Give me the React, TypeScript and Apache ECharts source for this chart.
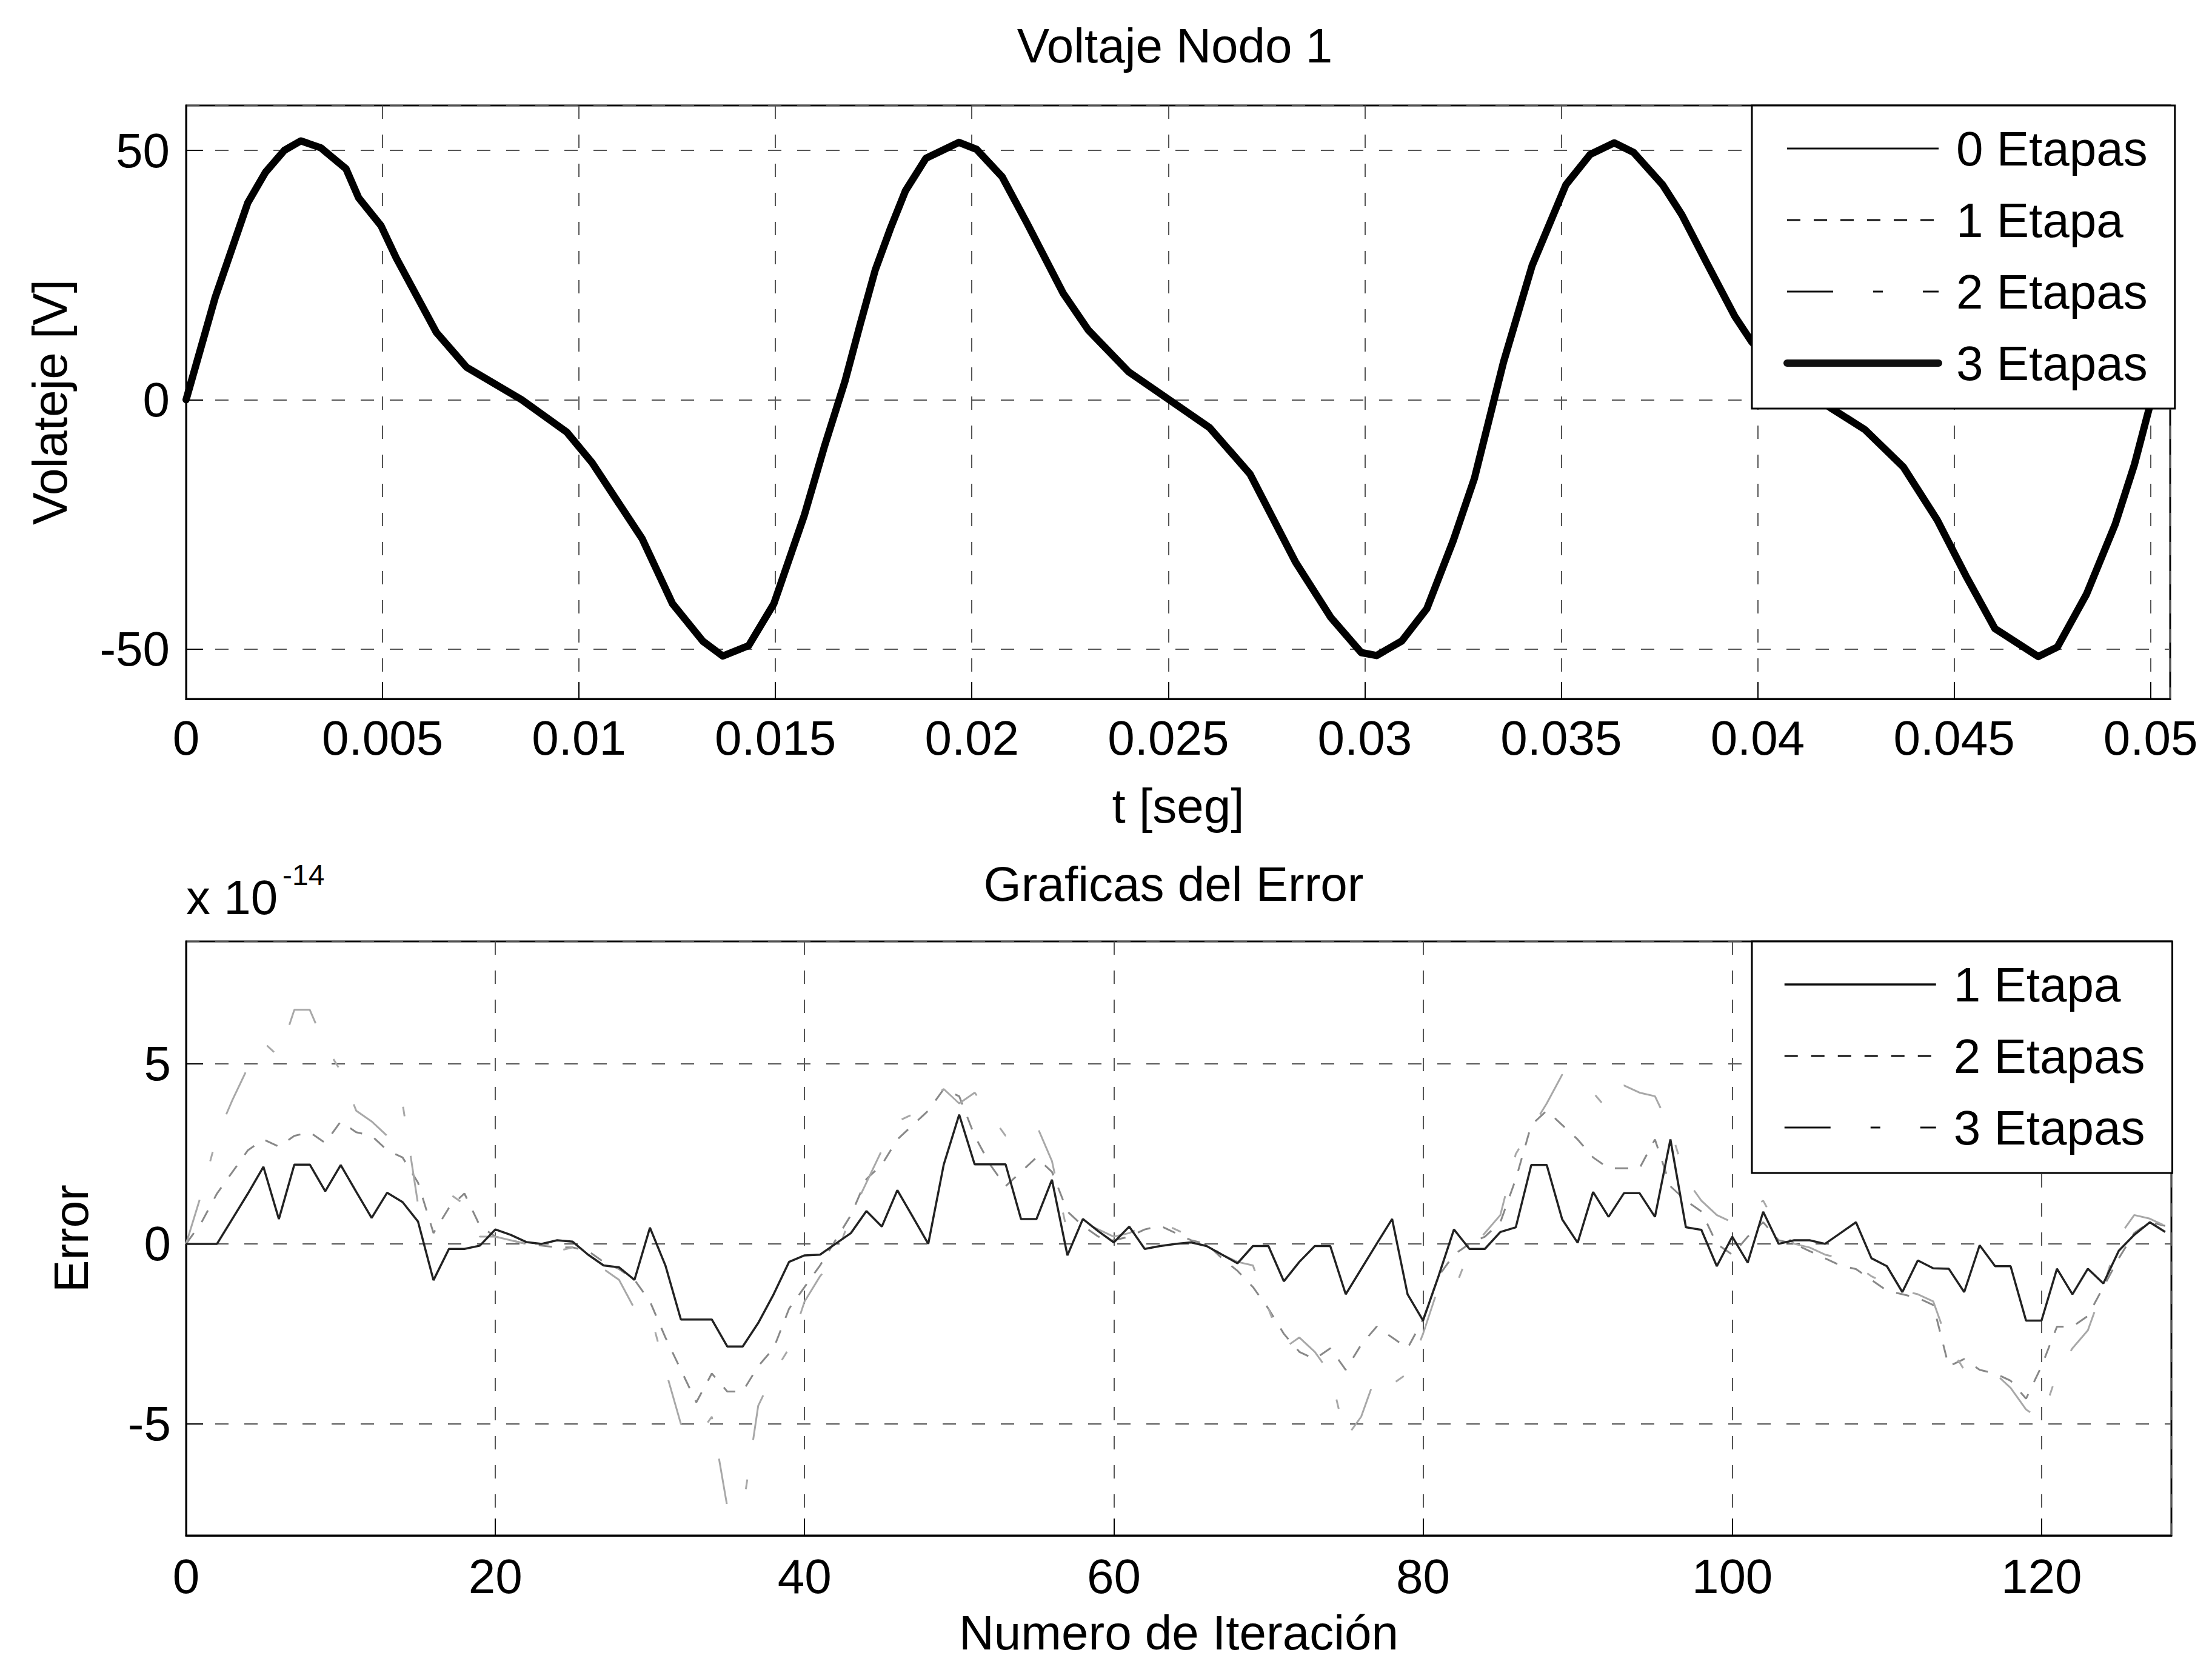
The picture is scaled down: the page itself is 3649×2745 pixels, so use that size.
import React, { useEffect, useRef } from "react";
import * as echarts from "echarts";

// ---- Top plot: Voltaje Nodo 1 ----
const voltageTimes = [
  0, 0.00074, 0.00157, 0.00202, 0.0025, 0.00292, 0.00343, 0.00407, 0.00439, 0.00496,
  0.00535, 0.00637, 0.00714, 0.00854, 0.00969, 0.01033, 0.01161, 0.01238, 0.01315, 0.01366,
  0.01432, 0.01496, 0.01573, 0.01625, 0.01677, 0.01715, 0.01754, 0.01793, 0.01831, 0.01883,
  0.01967, 0.02012, 0.02077, 0.02141, 0.02232, 0.02296, 0.02399, 0.02502, 0.02605, 0.02708,
  0.02824, 0.02914, 0.02991, 0.0303, 0.03094, 0.03158, 0.03225, 0.03279, 0.03353, 0.03426,
  0.03512, 0.03574, 0.03635, 0.03684, 0.03758, 0.03807, 0.03868, 0.03942, 0.03985, 0.0406,
  0.04187, 0.04273, 0.04371, 0.04457, 0.0453, 0.04604, 0.04714, 0.04763, 0.04837, 0.0491,
  0.04959, 0.04996, 0.05045,
];
const voltageValues = [
  0, 20.5, 39.5, 45.6, 50.0, 51.9, 50.5, 46.3, 40.5, 34.9,
  28.4, 13.5, 6.5, 0, -6.5, -12.6, -27.9, -40.9, -48.4, -51.4,
  -49.3, -40.9, -23.3, -9.3, 3.7, 14.9, 26, 34.4, 41.9, 48.4,
  51.6, 50.2, 44.7, 35.3, 21.4, 14, 5.6, 0, -5.6, -14.9,
  -32.6, -43.7, -50.7, -51.3, -48.4, -41.9, -28.3, -15.8, 7.5, 26.9,
  43.1, 49.2, 51.5, 49.6, 43.1, 37.1, 27.8, 16.7, 11.6, 5.5,
  -1.7, -6, -13.5, -24.1, -35.3, -45.9, -51.5, -49.6, -39, -25,
  -13, -1.9, 13.9,
];
const topSeriesNames = ["0 Etapas", "1 Etapa", "2 Etapas", "3 Etapas"];

// ---- Bottom plot: Graficas del Error (units of 1e-14) ----
const iterations = Array.from({ length: 129 }, (_, i) => i);
const error1Etapa = [
  0, 0, 0, 0.7, 1.4, 2.14, 0.69, 2.2, 2.2, 1.46,
  2.19, 1.45, 0.72, 1.42, 1.16, 0.62, -1.01, -0.14, -0.14, -0.05,
  0.4, 0.25, 0.05, 0, 0.1, 0.06, -0.3, -0.6, -0.65, -1.0,
  0.45, -0.6, -2.1, -2.1, -2.1, -2.85, -2.85, -2.2, -1.4, -0.5,
  -0.32, -0.3, 0.0, 0.3, 0.91, 0.48, 1.49, 0.75, 0, 2.2,
  3.59, 2.21, 2.21, 2.21, 0.69, 0.69, 1.78, -0.32, 0.69, 0.35,
  0.04, 0.48, -0.14, -0.06, 0.0, 0.04, -0.06, -0.3, -0.54, -0.06,
  -0.06, -1.04, -0.5, -0.06, -0.06, -1.4, -0.7, 0, 0.69, -1.4,
  -2.13, -0.9, 0.4, -0.14, -0.14, 0.33, 0.46, 2.19, 2.19, 0.68,
  0.03, 1.44, 0.75, 1.41, 1.41, 0.75, 2.9, 0.46, 0.39, -0.62,
  0.2, -0.52, 0.89, 0, 0.1, 0.1, 0, 0.3, 0.6, -0.4,
  -0.62, -1.34, -0.46, -0.68, -0.69, -1.34, -0.04, -0.62, -0.62, -2.13,
  -2.13, -0.69, -1.4, -0.69, -1.1, -0.19, 0.25, 0.6, 0.33,
];
const error2Etapas = [
  0, 0.6, 1.4, 2.0, 2.6, 2.9, 2.7, 3.0, 3.1, 2.8,
  3.4, 3.1, 3.0, 2.6, 2.4, 1.7, 0.3, 1.0, 1.4, 0.5,
  0.2, 0.1, 0.0, -0.05, -0.1, -0.1, -0.2, -0.5, -0.7, -1.0,
  -1.6, -2.6, -3.5, -4.4, -3.6, -4.1, -4.1, -3.4, -2.9, -1.8,
  -1.2, -0.6, 0.1, 0.8, 1.8, 2.2, 2.9, 3.3, 3.7, 4.3,
  4.1, 3.0, 2.2, 1.6, 2.0, 2.4, 2.0, 0.9, 0.5, 0.2,
  0.1, 0.2, 0.4, 0.5, 0.3, 0.1, 0.0, -0.4, -0.75, -1.2,
  -1.8, -2.5, -3.0, -3.2, -2.9, -3.5, -2.8, -2.3, -2.6, -2.9,
  -2.1, -0.9, -0.3, 0.0, 0.2, 0.6, 1.8, 3.3, 3.7, 3.3,
  2.9, 2.4, 2.1, 2.1, 2.1, 2.9, 1.6, 1.2, 0.9, 0.0,
  -0.3, 0.2, 0.6, 0.1, 0.0, -0.2, -0.4, -0.6, -0.7, -1.0,
  -1.3, -1.4, -1.5, -1.7, -3.4, -3.2, -3.5, -3.6, -3.8, -4.3,
  -3.4, -2.3, -2.3, -2.0, -1.2, -0.4, 0.3, 0.6, 0.5,
];
const error3Etapas = [
  0, 1.4, 3.0, 4.0, 4.9, 5.6, 5.2, 6.5, 6.5, 5.5,
  4.8, 3.7, 3.4, 3.0, 3.9, 1.1, 1.3, 1.4, 1.1, 0.2,
  0.2, 0.1, 0.0, -0.1, -0.2, -0.1, -0.3, -0.7, -1.0, -1.8,
  -1.9, -3.5, -5.0, -5.4, -4.8, -7.3, -7.4, -4.5, -3.6, -2.9,
  -1.6, -0.9, -0.4, 0.8, 1.7, 2.6, 3.4, 3.6, 4.0, 4.3,
  3.9, 4.2, 3.6, 3.0, 3.3, 3.3, 2.3, 0.3, 0.6, 0.4,
  0.2, 0.3, 0.5, 0.6, 0.4, 0.2, 0.0, -0.3, -0.5, -0.6,
  -1.8, -2.9, -2.6, -3.0, -3.6, -5.4, -4.8, -3.6, -3.9, -3.6,
  -2.5, -1.2, -1.3, -0.2, 0.3, 0.8, 2.5, 3.2, 3.9, 4.7,
  4.3, 4.2, 3.7, 4.4, 4.2, 4.1, 3.2, 1.8, 1.2, 0.8,
  0.6, 0.9, 1.2, 0.4, 0.0, -0.1, -0.3, -0.4, -0.6, -0.9,
  -1.1, -1.3, -1.4, -1.6, -2.8, -3.5, -3.5, -3.6, -4.0, -4.6,
  -4.9, -3.6, -2.9, -2.4, -1.2, 0.2, 0.8, 0.7, 0.5,
];
const bottomSeriesNames = ["1 Etapa", "2 Etapas", "3 Etapas"];

const FONT = '"Liberation Sans", Arial, Helvetica, sans-serif';
const DASH: number[] = [22, 22];
const DASH_DOT: number[] = [76, 66, 16, 66];

export default function App() {
  const ref = useRef<HTMLDivElement>(null);

  useEffect(() => {
    const chart = echarts.init(ref.current!, null, { renderer: "svg" });

    const voltData = voltageTimes.map((t, i) => [t, voltageValues[i]]);
    const errData = (arr: number[]) => iterations.map((it, i) => [it, arr[i]]);

    const splitLine = { show: true, lineStyle: { color: "#555", width: 2, type: [22, 26] } };
    const axisLine = { show: true, onZero: false, lineStyle: { color: "#000", width: 3 } };
    const axisTick = { show: true, inside: true, length: 28, lineStyle: { color: "#000", width: 2 } };
    const labelBase = { fontSize: 80, color: "#000", fontFamily: FONT };
    const nameStyle = { fontSize: 80, color: "#000", fontFamily: FONT };

    const legendBase = {
      orient: "vertical",
      itemWidth: 250,
      itemHeight: 20,
      itemGap: 28,
      padding: [26, 45, 30, 52],
      backgroundColor: "#fff",
      borderColor: "#000",
      borderWidth: 3,
      borderRadius: 0,
      selectedMode: false,
      textStyle: { fontSize: 80, color: "#000", fontFamily: FONT, lineHeight: 90, padding: [0, 0, 0, 24] },
      lineStyle: { color: "#111", width: "inherit", type: "inherit" },
      itemStyle: { opacity: 0, color: "transparent", borderColor: "transparent", borderWidth: 0 },
      formatter: (n: string) => n.split("|")[1],
      z: 10,
    };

    const option: any = {
      animation: false,
      backgroundColor: "#fff",
      textStyle: { fontFamily: FONT },
      grid: [
        { left: 307, top: 174, width: 3273, height: 979, show: true, borderColor: "#000", borderWidth: 3, backgroundColor: "transparent", outerBoundsMode: "none", containLabel: false },
        { left: 307, top: 1553, width: 3275, height: 980, show: true, borderColor: "#000", borderWidth: 3, backgroundColor: "transparent", outerBoundsMode: "none", containLabel: false },
      ],
      xAxis: [
        {
          type: "value", gridIndex: 0, min: 0, max: 0.0505, interval: 0.005,
          name: "t [seg]", nameLocation: "middle", nameGap: 136, nameTextStyle: nameStyle,
          axisLine, axisTick, splitLine,
          axisLabel: { ...labelBase, margin: 24, showMaxLabel: false, showMinLabel: true },
        },
        {
          type: "value", gridIndex: 1, min: 0, max: 128.4, interval: 20,
          name: "Numero de Iteración", nameLocation: "middle", nameGap: 120, nameTextStyle: nameStyle,
          axisLine, axisTick, splitLine,
          axisLabel: { ...labelBase, margin: 27, showMaxLabel: false, showMinLabel: true },
        },
      ],
      yAxis: [
        {
          type: "value", gridIndex: 0, min: -60, max: 59, splitNumber: 2,
          name: "Volateje [V]", nameLocation: "middle", nameGap: 185, nameTextStyle: nameStyle,
          axisLine, axisTick, splitLine,
          axisLabel: { ...labelBase, margin: 27, showMinLabel: false, showMaxLabel: false },
        },
        {
          type: "value", gridIndex: 1, min: -8.1, max: 8.4, splitNumber: 3,
          name: "Error", nameLocation: "middle", nameGap: 150, nameTextStyle: nameStyle,
          axisLine, axisTick, splitLine,
          axisLabel: { ...labelBase, margin: 25, showMinLabel: false, showMaxLabel: false },
        },
      ],
      legend: [
        { ...legendBase, left: 2890, top: 174, data: topSeriesNames.map((n) => "v|" + n) },
        { ...legendBase, left: 2890, top: 1553, data: bottomSeriesNames.map((n) => "e|" + n) },
      ],
      series: [
        { type: "line", name: "v|" + topSeriesNames[0], xAxisIndex: 0, yAxisIndex: 0, data: voltData, symbol: "none", color: "#000", lineStyle: { color: "#000", width: 3 }, z: 2 },
        { type: "line", name: "v|" + topSeriesNames[1], xAxisIndex: 0, yAxisIndex: 0, data: voltData, symbol: "none", color: "#333", lineStyle: { color: "#333", width: 3, type: DASH }, z: 2 },
        { type: "line", name: "v|" + topSeriesNames[2], xAxisIndex: 0, yAxisIndex: 0, data: voltData, symbol: "none", color: "#555", lineStyle: { color: "#555", width: 3, type: DASH_DOT }, z: 2 },
        { type: "line", name: "v|" + topSeriesNames[3], xAxisIndex: 0, yAxisIndex: 0, data: voltData, symbol: "none", color: "#000", lineStyle: { color: "#000", width: 12, join: "round", cap: "round" }, z: 3 },
        { type: "line", name: "e|" + bottomSeriesNames[1], xAxisIndex: 1, yAxisIndex: 1, data: errData(error2Etapas), symbol: "none", color: "#888", lineStyle: { color: "#888", width: 3, type: DASH }, z: 2 },
        { type: "line", name: "e|" + bottomSeriesNames[2], xAxisIndex: 1, yAxisIndex: 1, data: errData(error3Etapas), symbol: "none", color: "#a8a8a8", lineStyle: { color: "#a8a8a8", width: 3, type: DASH_DOT }, z: 2 },
        { type: "line", name: "e|" + bottomSeriesNames[0], xAxisIndex: 1, yAxisIndex: 1, data: errData(error1Etapa), symbol: "none", color: "#222", lineStyle: { color: "#222", width: 3.5 }, z: 3 },
      ],
      graphic: [
        { type: "text", x: 1938, y: 75, style: { text: "Voltaje Nodo 1", fontSize: 80, fontFamily: FONT, fill: "#000", align: "center", verticalAlign: "middle" } },
        { type: "text", x: 1936, y: 1458, style: { text: "Graficas del Error", fontSize: 80, fontFamily: FONT, fill: "#000", align: "center", verticalAlign: "middle" } },
        { type: "text", x: 307, y: 1480, style: { text: "x 10", fontSize: 80, fontFamily: FONT, fill: "#000", align: "left", verticalAlign: "middle" } },
        { type: "text", x: 466, y: 1443, style: { text: "-14", fontSize: 48, fontFamily: FONT, fill: "#000", align: "left", verticalAlign: "middle" } },
      ],
    };

    chart.setOption(option);
    return () => chart.dispose();
  }, []);

  return (
    <div
      ref={ref}
      style={{ position: "absolute", left: 0, top: 0, width: 3649, height: 2745, background: "#fff" }}
    />
  );
}
